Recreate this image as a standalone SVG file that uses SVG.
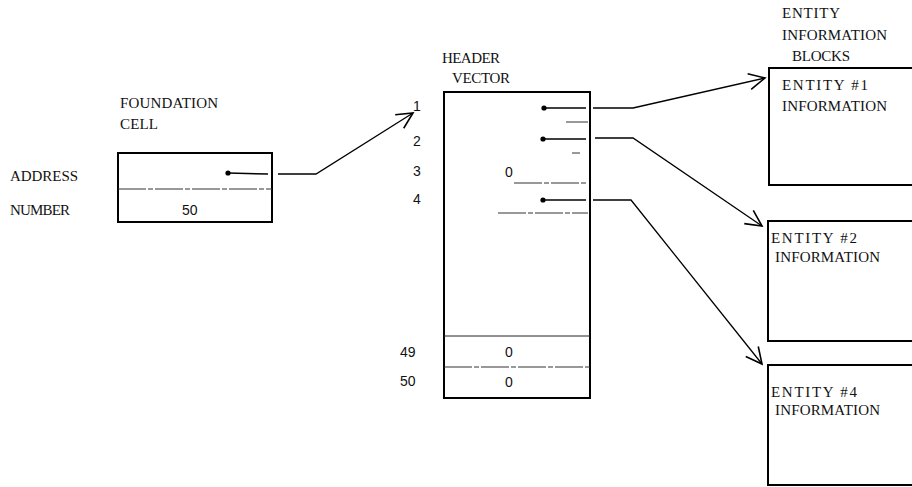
<svg xmlns="http://www.w3.org/2000/svg" width="912" height="487" viewBox="0 0 912 487">
<defs>
<marker id="arr" viewBox="0 0 20 20" refX="18" refY="10" markerWidth="20" markerHeight="20" markerUnits="userSpaceOnUse" orient="auto">
<path d="M2,2 L18,10 L2,18" fill="none" stroke="#000" stroke-width="1.6"/>
</marker>
<style>
.t{font-family:"Liberation Serif","Times New Roman",serif;font-size:15px;fill:#111}
.n{font-family:"Liberation Sans",Arial,sans-serif;font-size:14px;fill:#111}
.box{fill:#fff;stroke:#000;stroke-width:2}
.div{stroke:#222;stroke-width:1;fill:none}
.dash{stroke:#333;stroke-width:1;fill:none;stroke-dasharray:28 2 5 2}
.ptr{stroke:#000;stroke-width:1.5;fill:none}
.con{stroke:#000;stroke-width:1.3;fill:none}
</style>
</defs>
<rect width="912" height="487" fill="#fff"/>

<g id="foundation-cell">
<text class="t" x="120" y="108" textLength="98" lengthAdjust="spacing">FOUNDATION</text>
<text class="t" x="120" y="129" textLength="38" lengthAdjust="spacing">CELL</text>
<text class="t" x="10" y="181" textLength="68" lengthAdjust="spacing">ADDRESS</text>
<text class="t" x="10" y="215" textLength="60" lengthAdjust="spacing">NUMBER</text>
<rect class="box" x="118" y="153" width="154" height="69"/>
<line class="dash" x1="118" y1="189" x2="272" y2="189"/>
<circle cx="228" cy="173" r="2.6" fill="#000"/>
<line class="ptr" x1="228" y1="173" x2="268" y2="174"/>
<text class="n" x="182" y="215">50</text>
</g>

<g id="header-vector">
<text class="t" x="442" y="63" textLength="58" lengthAdjust="spacing">HEADER</text>
<text class="t" x="452" y="83" textLength="58" lengthAdjust="spacing">VECTOR</text>
<rect class="box" x="444" y="92" width="146" height="306"/>
<text class="n" x="413" y="111">1</text>
<text class="n" x="413" y="146">2</text>
<text class="n" x="413" y="176">3</text>
<text class="n" x="413" y="204">4</text>
<text class="n" x="400" y="357">49</text>
<text class="n" x="400" y="386">50</text>
<text class="n" x="505" y="177">0</text>
<text class="n" x="505" y="357">0</text>
<text class="n" x="505" y="387">0</text>
<circle cx="544" cy="108" r="2.6" fill="#000"/>
<line class="ptr" x1="544" y1="108" x2="586" y2="108"/>
<circle cx="543" cy="139" r="2.6" fill="#000"/>
<line class="ptr" x1="543" y1="139" x2="586" y2="139"/>
<circle cx="543" cy="200" r="2.6" fill="#000"/>
<line class="ptr" x1="543" y1="200" x2="586" y2="200"/>
<line class="dash" x1="566" y1="122" x2="588" y2="122"/>
<line class="dash" x1="572" y1="153" x2="580" y2="153" stroke-dasharray="2 3"/>
<line class="dash" x1="514" y1="183" x2="588" y2="183" stroke-dasharray="16 20 40 0"/>
<line class="dash" x1="498" y1="213" x2="588" y2="213"/>
<line class="div" x1="444" y1="336" x2="590" y2="336"/>
<line class="dash" x1="444" y1="367" x2="590" y2="367" stroke-dasharray="30 6 3 12 3 12 4 8 30"/>
</g>

<g id="entity-blocks">
<text class="t" x="782" y="18" textLength="58" lengthAdjust="spacing">ENTITY</text>
<text class="t" x="782" y="40" textLength="105" lengthAdjust="spacing">INFORMATION</text>
<text class="t" x="792" y="61" textLength="58" lengthAdjust="spacing">BLOCKS</text>
</g>

<g id="entity-1">
<rect class="box" x="769" y="68" width="150" height="117"/>
<text class="t" x="782" y="90" textLength="86" lengthAdjust="spacing">ENTITY #1</text>
<text class="t" x="782" y="111" textLength="105" lengthAdjust="spacing">INFORMATION</text>
</g>

<g id="entity-2">
<rect class="box" x="768" y="221" width="150" height="120"/>
<text class="t" x="771" y="243" textLength="86" lengthAdjust="spacing">ENTITY #2</text>
<text class="t" x="775" y="262" textLength="105" lengthAdjust="spacing">INFORMATION</text>
</g>

<g id="entity-4">
<rect class="box" x="768" y="365" width="150" height="120"/>
<text class="t" x="771" y="397" textLength="86" lengthAdjust="spacing">ENTITY #4</text>
<text class="t" x="775" y="415" textLength="105" lengthAdjust="spacing">INFORMATION</text>
</g>

<g id="connectors">
<polyline class="con" points="278,174 316,174 413,113" marker-end="url(#arr)"/>
<polyline class="con" points="593,108 633,108 765,78" marker-end="url(#arr)"/>
<polyline class="con" points="595,138 633,138 762,226" marker-end="url(#arr)"/>
<polyline class="con" points="593,200 631,200 762,364" marker-end="url(#arr)"/>
</g>
</svg>
